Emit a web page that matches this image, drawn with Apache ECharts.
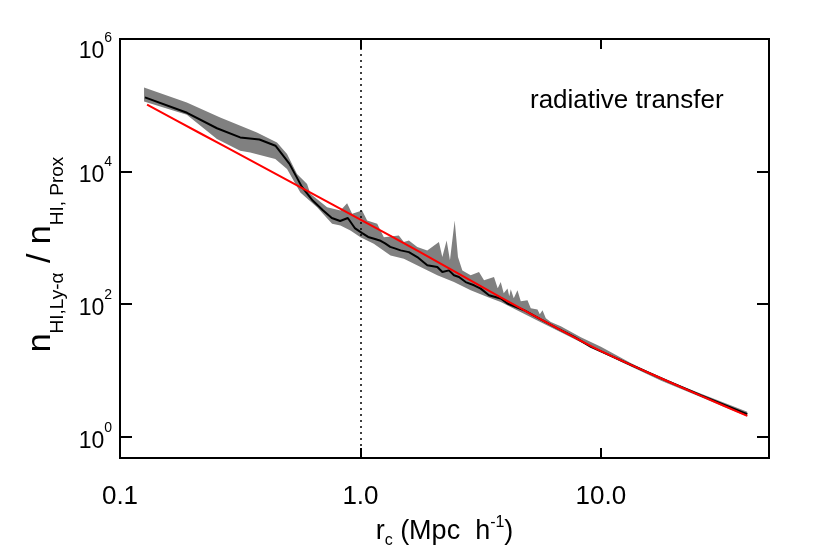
<!DOCTYPE html>
<html>
<head>
<meta charset="utf-8">
<script src="https://cdn.jsdelivr.net/npm/echarts@6/dist/echarts.min.js"></script>
<style>
html,body{margin:0;padding:0;background:#fff;}
#chart{width:830px;height:554px;}
</style>
</head>
<body>
<div id="chart"></div>
<script>
// ---- data ----
const medianR = [0.127,0.19,0.253,0.316,0.38,0.443,0.506,0.57,0.633,0.696,0.76,0.823,0.886,0.95,1.013,1.076,1.14,1.203,1.266,1.33,1.39,
  1.468,1.59,1.723,1.896,2.087,2.19,2.333,2.448,2.568,2.738,2.966,3.162,3.424,3.831,4.087,4.79,5.62,6.6,7.74,9.08,11.0,13.8,19.0,26.1,40.6];
const medianV = [1.32e5,7.71e4,4.51e4,3.28e4,3.05e4,2.46e4,1.32e4,5940,3660,2640,2000,1800,2000,1390,1190,1035,973,917,826,733,695,
  649,611,514,386,364,306,324,273,258,216,193,172,137,122,102.5,81.2,58.9,43.1,32.2,22.8,16.6,11.5,6.9,4.2,2.2];

const upperR = [0.1259,0.1896,0.261,0.371,0.4496,0.495,0.5447,0.5997,0.619,0.7264,0.8254,0.880,0.9235,1.016,1.066,1.174,1.251,1.444,1.515,1.590,1.723,1.896,
  2.12,2.19,2.282,2.356,2.465,2.544,2.653,2.873,3.111,3.265,3.592,3.722,3.831,3.943,4.087,4.158,4.217,4.340,4.497,4.642,4.950,5.109,5.448,5.569,5.716,5.899,
  6.19,6.81,8.25,10,13.3,17.8,26.1,40.6];
const upperV = [1.85e5,1.10e5,6.56e4,3.90e4,2.76e4,1.85e4,9230,6530,4620,2900,2590,3340,2310,2590,1830,1635,1028,1091,865,917,727,649,
  865,514,917,459,1833,514,324,273,306,230,258,174,216,146,172,132,168,123,162,111,115,87.1,83.2,70.7,81.2,61.6,
  54.2,46.7,31.9,22.9,13.0,7.8,4.45,2.40];

const lowerR = [0.1259,0.1896,0.253,0.316,0.348,0.4424,0.495,0.5623,0.660,0.762,0.8254,0.9085,1.0,1.136,1.334,1.515,1.778,2.087,2.448,2.873,3.373,3.831,
  5.62,8.25,12.1,17.8,26.1,40.6];
const lowerV = [1.14e5,7.2e4,3.10e4,2.07e4,1.95e4,1.55e4,1.10e4,4830,2900,1635,1542,1297,1028,818,545,487,364,273,216,162,129,108,
  53.6,26.8,13.6,7.0,3.95,2.03];

const fitR = [0.1296,0.2154,0.348,0.562,1.0,1.778,3.83,6.81,10,16.2,26.1,40.6];
const fitV = [1.02e5,3.79e4,1.487e4,5840,1890,605,127,40.6,19.6,8.86,4.14,2.07];

const xTicks = [0.1, 1, 10];
const yTicks = [1, 100, 1e4, 1e6];
const xRange = [0.1, 50];
const yRange = [0.48, 1e6];
const markerR = 1.0;
const panelLabel = 'radiative transfer';

// ---- chart ----
const chart = echarts.init(document.getElementById('chart'), null, {renderer:'canvas'});
const FONT = '"Liberation Sans", Arial, Helvetica, sans-serif';

const pair = (xs, ys) => xs.map((x, i) => [x, ys[i]]);

const xAxisBase = {
  type: 'log', logBase: 10, min: xRange[0], max: xRange[1],
  axisLine: {show: false},
  splitLine: {show: false},
  minorTick: {show: false},
  axisTick: {show: true, inside: true, length: 10, customValues: xTicks, lineStyle: {color: '#000', width: 2}},
};
const yAxisBase = {
  type: 'log', logBase: 10, min: yRange[0], max: yRange[1],
  axisLine: {show: false},
  splitLine: {show: false},
  minorTick: {show: false},
  axisTick: {show: true, inside: true, length: 12, customValues: yTicks, lineStyle: {color: '#000', width: 2}},
};

const option = {
  backgroundColor: '#fff',
  animation: false,
  grid: {left: 120, right: 61, top: 39, bottom: 96, show: true, borderColor: '#000', borderWidth: 2, backgroundColor: 'transparent'},
  xAxis: [
    Object.assign({}, xAxisBase, {
      position: 'bottom',
      axisLabel: {
        show: true, customValues: xTicks, margin: 26, color: '#000', fontSize: 26, fontFamily: FONT,
        showMinLabel: true, showMaxLabel: true,
        formatter: v => (v < 0.5 ? '0.1' : v.toFixed(1))
      },
      name: '{m|r}{sb|c}{m| (Mpc  h}{sp|-1}{m|)}',
      nameLocation: 'middle', nameGap: 42,
      nameTextStyle: {
        color: '#000', fontFamily: FONT,
        rich: {
          m: {fontSize: 27, lineHeight: 34, verticalAlign: 'middle', color: '#000', fontFamily: FONT},
          sb: {fontSize: 16, lineHeight: 16, verticalAlign: 'bottom', color: '#000', fontFamily: FONT},
          sp: {fontSize: 16, lineHeight: 16, verticalAlign: 'top', color: '#000', fontFamily: FONT}
        }
      }
    }),
    Object.assign({}, xAxisBase, {position: 'top', axisLabel: {show: false}})
  ],
  yAxis: [
    Object.assign({}, yAxisBase, {
      position: 'left',
      axisLabel: {
        show: true, customValues: yTicks, margin: 8, color: '#000', fontFamily: FONT,
        formatter: v => {
          const e = Math.round(Math.log10(v));
          return e >= 6 ? '{B|10}{S|' + e + '}' : '{b|10}{s|' + e + '}';
        },
        rich: {
          b: {fontSize: 23, lineHeight: 32, verticalAlign: 'bottom', color: '#000', fontFamily: FONT},
          s: {fontSize: 14, verticalAlign: 'top', color: '#000', fontFamily: FONT},
          B: {fontSize: 23, lineHeight: 48, verticalAlign: 'bottom', color: '#000', fontFamily: FONT},
          S: {fontSize: 14, verticalAlign: 'top', padding: [16, 0, 0, 0], color: '#000', fontFamily: FONT}
        }
      },
      name: '{n|n}{s|HI,Ly-α}{n| / n}{s|HI, Prox}',
      nameLocation: 'middle', nameGap: 49, nameRotate: 90,
      nameTextStyle: {
        color: '#000', fontFamily: FONT, padding: [0, 12, 0, 0],
        rich: {
          n: {fontSize: 34, lineHeight: 44, verticalAlign: 'top', color: '#000', fontFamily: FONT},
          s: {fontSize: 19, lineHeight: 19, verticalAlign: 'bottom', color: '#000', fontFamily: FONT}
        }
      }
    }),
    Object.assign({}, yAxisBase, {position: 'right', axisLabel: {show: false}})
  ],
  graphic: [{
    type: 'text', left: 530, top: 88,
    style: {text: panelLabel, fontSize: 26, fontFamily: FONT, fill: '#000'}
  }],
  series: [
    {
      name: 'range', type: 'custom', xAxisIndex: 0, yAxisIndex: 0,
      data: [[1, 1]], encode: {x: 0, y: 1}, silent: true, z: 1,
      renderItem: function (params, api) {
        const pts = [];
        for (let i = 0; i < upperR.length; i++) pts.push(api.coord([upperR[i], upperV[i]]));
        for (let i = lowerR.length - 1; i >= 0; i--) pts.push(api.coord([lowerR[i], lowerV[i]]));
        return {type: 'polygon', shape: {points: pts}, style: {fill: '#808080', stroke: null}};
      }
    },
    {
      name: 'median', type: 'line', data: pair(medianR, medianV), showSymbol: false, symbol: 'none',
      lineStyle: {color: '#000', width: 2}, z: 3,
      markLine: {
        silent: true, symbol: 'none', label: {show: false},
        lineStyle: {color: '#000', type: [2, 4], width: 1.5},
        data: [{xAxis: markerR}]
      }
    },
    {
      name: 'fit', type: 'line', data: pair(fitR, fitV), showSymbol: false, symbol: 'none', smooth: 0.2,
      lineStyle: {color: '#ff0000', width: 2}, z: 4
    }
  ]
};
chart.setOption(option);
</script>
</body>
</html>
